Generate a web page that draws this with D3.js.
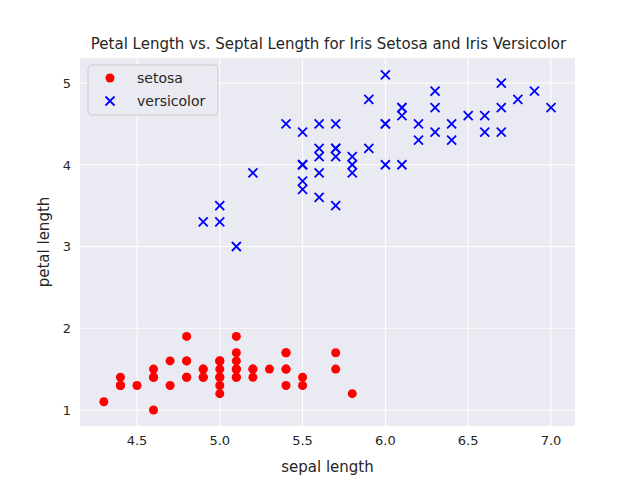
<!DOCTYPE html><html><head><script src="https://d3js.org/d3.v7.min.js"></script>
<style>body{margin:0;background:#fff}text{font-family:"DejaVu Sans",sans-serif}</style></head><body><script>
const setosaX=[5.1,4.9,4.7,4.6,5.0,5.4,4.6,5.0,4.4,4.9,5.4,4.8,4.8,4.3,5.8,5.7,5.4,5.1,5.7,5.1,5.4,5.1,4.6,5.1,4.8,5.0,5.0,5.2,5.2,4.7,4.8,5.4,5.2,5.5,4.9,5.0,5.5,4.9,4.4,5.1,5.0,4.5,4.4,5.0,5.1,4.8,5.1,4.6,5.3,5.0];
const setosaY=[1.4,1.4,1.3,1.5,1.4,1.7,1.4,1.5,1.4,1.5,1.5,1.6,1.4,1.1,1.2,1.5,1.3,1.4,1.7,1.5,1.7,1.5,1.0,1.7,1.9,1.6,1.6,1.5,1.4,1.6,1.6,1.5,1.5,1.4,1.5,1.2,1.3,1.4,1.3,1.5,1.3,1.3,1.3,1.6,1.9,1.4,1.6,1.4,1.5,1.4];
const versX=[7.0,6.4,6.9,5.5,6.5,5.7,6.3,4.9,6.6,5.2,5.0,5.9,6.0,6.1,5.6,6.7,5.6,5.8,6.2,5.6,5.9,6.1,6.3,6.1,6.4,6.6,6.8,6.7,6.0,5.7,5.5,5.5,5.8,6.0,5.4,6.0,6.7,6.3,5.6,5.5,5.5,6.1,5.8,5.0,5.6,5.7,5.7,6.2,5.1,5.7];
const versY=[4.7,4.5,4.9,4.0,4.6,4.5,4.7,3.3,4.6,3.9,3.5,4.2,4.0,4.7,3.6,4.4,4.5,4.1,4.5,3.9,4.8,4.0,4.9,4.7,4.3,4.4,4.8,5.0,4.5,3.5,3.8,3.7,3.9,5.1,4.5,4.5,4.7,4.4,4.1,4.0,4.4,4.6,4.0,3.3,4.2,4.2,4.2,4.3,3.0,4.1];
const xTicks=[4.5,5.0,5.5,6.0,6.5,7.0], yTicks=[1,2,3,4,5];
const L=80,R=575,T=58,B=426;
const x=d3.scaleLinear().domain([4.156,7.145]).range([L,R]);
const y=d3.scaleLinear().domain([0.804,5.306]).range([B,T]);
const svg=d3.select("body").append("svg").attr("width",640).attr("height",480);
svg.append("rect").attr("x",L).attr("y",T).attr("width",R-L).attr("height",B-T).attr("fill","#eaeaf2");
const g=svg.append("g");
xTicks.forEach(t=>g.append("line").attr("x1",x(t)).attr("x2",x(t)).attr("y1",T).attr("y2",B).attr("stroke","#fff").attr("stroke-width",1));
yTicks.forEach(t=>g.append("line").attr("y1",y(t)).attr("y2",y(t)).attr("x1",L).attr("x2",R).attr("stroke","#fff").attr("stroke-width",1));
xTicks.forEach(t=>svg.append("text").attr("x",x(t)).attr("y",B+19).attr("text-anchor","middle").attr("font-size",13).attr("fill","#262626").text(d3.format(".1f")(t)));
yTicks.forEach(t=>svg.append("text").attr("x",L-9).attr("y",y(t)+5).attr("text-anchor","end").attr("font-size",13).attr("fill","#262626").text(t));
svg.append("text").attr("x",(L+R)/2).attr("y",472).attr("text-anchor","middle").attr("font-size",15).attr("fill","#262626").text("sepal length");
svg.append("text").attr("transform",`translate(49,${(T+B)/2}) rotate(-90)`).attr("text-anchor","middle").attr("font-size",15).attr("fill","#262626").text("petal length");
svg.append("text").attr("x",(L+R)/2+1).attr("y",49).attr("text-anchor","middle").attr("font-size",15).attr("fill","#262626").text("Petal Length vs. Septal Length for Iris Setosa and Iris Versicolor");
setosaX.forEach((v,i)=>svg.append("circle").attr("cx",x(v)).attr("cy",y(setosaY[i])).attr("r",4.5).attr("fill","red"));
const cross=(px,py)=>svg.append("path").attr("d",`M${px-4.5},${py-4.5}L${px+4.5},${py+4.5}M${px-4.5},${py+4.5}L${px+4.5},${py-4.5}`).attr("stroke","blue").attr("stroke-width",1.8);
versX.forEach((v,i)=>cross(x(v),y(versY[i])));
svg.append("rect").attr("x",88).attr("y",65).attr("width",130).attr("height",50).attr("rx",4).attr("fill","#eaeaf2").attr("stroke","#ccc").attr("opacity",0.9);
svg.append("circle").attr("cx",110).attr("cy",78).attr("r",4.5).attr("fill","red");
cross(110,101);
svg.append("text").attr("x",137).attr("y",83).attr("font-size",14).attr("fill","#262626").text("setosa");
svg.append("text").attr("x",137).attr("y",106).attr("font-size",14).attr("fill","#262626").text("versicolor");
</script></body></html>
